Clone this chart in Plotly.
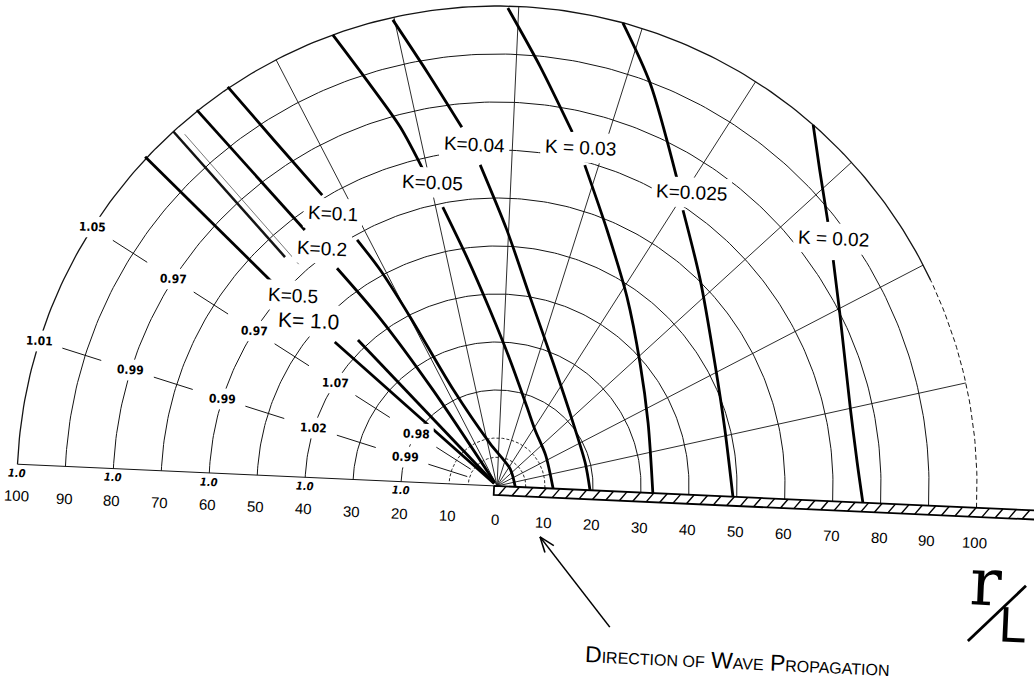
import numpy as np
import plotly.graph_objects as go

# ---------------------------------------------------------------------------
# Diffraction diagram behind a semi-infinite breakwater (r/L polar grid)
# ---------------------------------------------------------------------------

# grid values (r/L)
ARC_RADII = [20, 30, 40, 50, 60, 70, 80, 90]
OUTER_RADIUS = 100
INNER_ARC_RADII = [6, 10]
RAY_ANGLES = [15, 30, 45, 60, 75, 90, 105, 120]
TICK_VALUES = [0, 10, 20, 30, 40, 50, 60, 70, 80, 90, 100]

# K contours as (r/L, angle in degrees) polylines, split where the label sits
K002_UPPER = [(100, 51.4), (94.1, 47.0), (88.2, 41.2)]
K002_LOWER = [(84.4, 36.5), (80.0, 29.4), (75.4, 15.2), (75.2, 6.3), (76.3, 0)]

K0025_UPPER = [(100, 77.4), (89.8, 71.8), (74.0, 62.1)]
K0025_LOWER = [(69.3, 58.6), (60.3, 48.0), (52.1, 32.0), (48.9, 16.4), (49.2, 0)]

K003_UPPER = [(99.6, 91.3), (87.8, 86.7), (75.4, 80.6)]
K003_LOWER = [(69.3, 77.3), (58.0, 69.3), (47.8, 58.1), (39.3, 43.3), (34.1, 25.2), (32.5, 0)]

K004_UPPER = [(99.5, 105.2), (87.2, 102.1), (75.1, 98.2)]
K004_LOWER = [(67.0, 95.6), (53.4, 90.4), (40.0, 82.7), (28.2, 68.1), (20.6, 42.3), (19.0, 17.2), (19.4, 0)]

K005_UPPER = [(100, 112.6), (88.8, 110.4), (77.5, 107.7), (66.9, 105.6)]
K005_LOWER = [(59.2, 103.6), (48.1, 100.1), (36.7, 94.9), (26.4, 86.7), (17.6, 71.8), (14.1, 58.4), (12.0, 35.0), (11.7, 0)]

K01_UPPER = [(100.3, 126.6), (85.5, 125.4), (70.7, 123.6)]
K01_LOWER = [(59.0, 122.2), (51.2, 121.0), (39.6, 119.8), (22.0, 117.0), (9.0, 102.0), (4.5, 55.0), (3.8, 0)]

K02_UPPER = [(100.2, 131.2), (66.7, 129.5)]
K02_LOWER = [(56.3, 128.9), (42.6, 127.5), (24.0, 126.3), (0.8, 126.0)]

K05_UPPER = [(100.4, 139.5), (63.3, 140.4)]
K05_LOWER = [(42.0, 136.2), (0.8, 136.0)]

K10_LOWER = [(45.2, 141.0), (0.8, 141.0)]

SHADOW_LINE = [(100, 135.0), (65, 135.4)]
SHADOW_LINE_TRACE = [(98, 134.2), (62, 134.4)]

# K labels: text, r/L, angle
K_LABEL_TEXT = ["K=0.04", "K=0.05", "K = 0.03", "K=0.025", "K = 0.02",
                "K=0.1", "K=0.2", "K=0.5", "K= 1.0"]
K_LABEL_R = [71.4, 64.6, 72.7, 73.3, 87.0, 66.3, 61.5, 58.1, 52.4]
K_LABEL_TH = [96.4, 104.7, 78.8, 59.0, 39.0, 123.6, 128.9, 139.6, 141.3]

# values on the illuminated side
VALUE_RADII = [100, 80, 60, 40, 20]
RAY150_VALUES = ["1.05", "0.97", "0.97", "1.07", "0.98"]
RAY165_VALUES = ["1.01", "0.99", "0.99", "1.02", "0.99"]
BASE_VALUES = ["1.0", "1.0", "1.0", "1.0", "1.0"]

# ---------------------------------------------------------------------------
# drawing frame: 4.8 px per unit, origin at (497, 486) px, sheet turned 2.6 deg
# ---------------------------------------------------------------------------
W, H = 1034, 685
PX = 4.8
OX, OY = 497, 486
TILT = np.radians(-2.6)

X_RANGE = [-OX / PX, (W - OX) / PX]
Y_RANGE = [-(H - OY) / PX, OY / PX]

INK = "#141414"


def frame(u, v):
    u = np.asarray(u, float)
    v = np.asarray(v, float)
    return u * np.cos(TILT) - v * np.sin(TILT), u * np.sin(TILT) + v * np.cos(TILT)


def polar(r, th):
    r = np.asarray(r, float)
    a = np.radians(np.asarray(th, float))
    return frame(r * np.cos(a), r * np.sin(a))


def join(segments):
    xs, ys = [], []
    for x, y in segments:
        xs += list(x) + [None]
        ys += list(y) + [None]
    return xs, ys


fig = go.Figure()


def add(segments, width, color=INK, dash="solid", shape="linear"):
    xs, ys = join(segments)
    fig.add_trace(go.Scatter(x=xs, y=ys, mode="lines", hoverinfo="skip",
                             line=dict(color=color, width=width, dash=dash,
                                       shape=shape, smoothing=0.8)))


# arcs
full = np.linspace(0, 180, 241)
add([polar(np.full_like(full, r), full) for r in ARC_RADII], 1.0)
add([polar(np.full_like(full, r), full) for r in INNER_ARC_RADII], 0.9, dash="3px,2px")
upper_part = np.linspace(28, 180, 200)
lower_part = np.linspace(0, 28, 40)
add([polar(np.full_like(upper_part, OUTER_RADIUS), upper_part)], 1.3)
add([polar(np.full_like(lower_part, OUTER_RADIUS), lower_part)], 1.0, dash="5px,3px")

# rays and baseline on the open side
add([polar([0, OUTER_RADIUS], [a, a]) for a in RAY_ANGLES], 0.9)
add([polar([0, OUTER_RADIUS], [180, 180])], 1.0)

# short marks running inward from each value
marks = []
for ray in (150, 165):
    for r in VALUE_RADII:
        marks.append(polar([r - 5, r - 13.5], [ray, ray]))
add(marks, 1.0)

# geometric shadow line (double stroke)
add([polar(*zip(*SHADOW_LINE_TRACE))], 0.8, color="#555555")
add([polar(*zip(*SHADOW_LINE))], 2.5)

# K contours
contours = [K002_UPPER, K002_LOWER, K0025_UPPER, K0025_LOWER, K003_UPPER, K003_LOWER,
            K004_UPPER, K004_LOWER, K005_UPPER, K005_LOWER, K01_UPPER, K01_LOWER,
            K02_UPPER, K02_LOWER, K05_UPPER, K05_LOWER, K10_LOWER]
add([polar(*zip(*seg)) for seg in contours], 2.8, color="#000000", shape="spline")

# breakwater with hatching
bw_u = [-0.6, 125, 125, -0.6, -0.6]
bw_v = [0, 0, -1.9, -1.9, 0]
bx, by = frame(bw_u, bw_v)
fig.add_trace(go.Scatter(x=bx, y=by, mode="lines", fill="toself", fillcolor="white",
                         line=dict(color="#000000", width=1.8), hoverinfo="skip"))
add([frame([s, s + 1.5], [-1.9, 0]) for s in np.arange(0.4, 123, 2.8)], 1.4, color="#000000")

# direction arrow
tip = np.array([8.96, -10.6])
tail = np.array([23.5, -29.4])
d = (tip - tail) / np.linalg.norm(tip - tail)
barbs = []
for s in (1, -1):
    a = np.radians(20 * s)
    rd = np.array([d[0] * np.cos(a) - d[1] * np.sin(a), d[0] * np.sin(a) + d[1] * np.cos(a)])
    p = tip - 3.4 * rd
    barbs.append(([tip[0], p[0]], [tip[1], p[1]]))
add([([tail[0], tip[0]], [tail[1], tip[1]])] + barbs, 1.6, color="#000000")

# r/L slash
add([([98.1, 110.2], [-32.3, -20.8])], 2.8, color="#000000")

ann = []
ROT = 2.6


def label(x, y, text, size, family="Liberation Sans", bg=None, pad=1, **kw):
    d = dict(x=x, y=y, xref="x", yref="y", text=text, showarrow=False,
             textangle=ROT, font=dict(size=size, family=family, color="#000000"),
             borderpad=pad)
    if bg:
        d["bgcolor"] = bg
    d.update(kw)
    ann.append(d)


# K labels
for text, r, th in zip(K_LABEL_TEXT, K_LABEL_R, K_LABEL_TH):
    x, y = polar(r, th)
    size = 21 if text.endswith("1.0") else 19
    label(float(x), float(y), text, size, bg="white", pad=4)

# values on arcs
NARROW = "Liberation Sans Narrow, DejaVu Sans Condensed, Liberation Sans"
for ray, values in ((150, RAY150_VALUES), (165, RAY165_VALUES)):
    for r, text in zip(VALUE_RADII, values):
        x, y = polar(r, ray)
        label(float(x), float(y), "<b>" + text + "</b>", 12, family=NARROW, bg="white", pad=3)
for r, text in zip(VALUE_RADII, BASE_VALUES):
    x, y = frame(-r, -1.9)
    label(float(x), float(y), "<b><i>" + text + "</i></b>", 11, family=NARROW)

# r/L scale numbers
for v in TICK_VALUES:
    if v == 0:
        x, y = frame(0, -7.0)
        label(float(x), float(y), "0", 15)
        continue
    x, y = frame(-v, -6.6)
    label(float(x), float(y), str(v), 15)
    x, y = frame(v, -7.2)
    label(float(x), float(y), str(v), 15)

# captions
small = "<span style='font-size:16px'>"
label(50.0, -36.5,
      "D" + small + "IRECTION OF</span> W" + small + "AVE</span> P" + small + "ROPAGATION</span>",
      23, family="Liberation Sans")
label(101.8, -20.0, "r", 66, family="DejaVu Serif")
label(107.4, -29.0, "L", 50, family="Liberation Sans")
label(6.9, -41.9, "15", 11, family="Liberation Sans", textangle=0,
      font=dict(size=11, family="Liberation Sans", color="#777777"))

fig.update_layout(
    width=W, height=H,
    margin=dict(l=0, r=0, t=0, b=0, pad=0),
    paper_bgcolor="white", plot_bgcolor="white",
    showlegend=False,
    xaxis=dict(range=X_RANGE, visible=False, fixedrange=True),
    yaxis=dict(range=Y_RANGE, visible=False, fixedrange=True),
    annotations=ann,
)

fig.write_html("out.html")
